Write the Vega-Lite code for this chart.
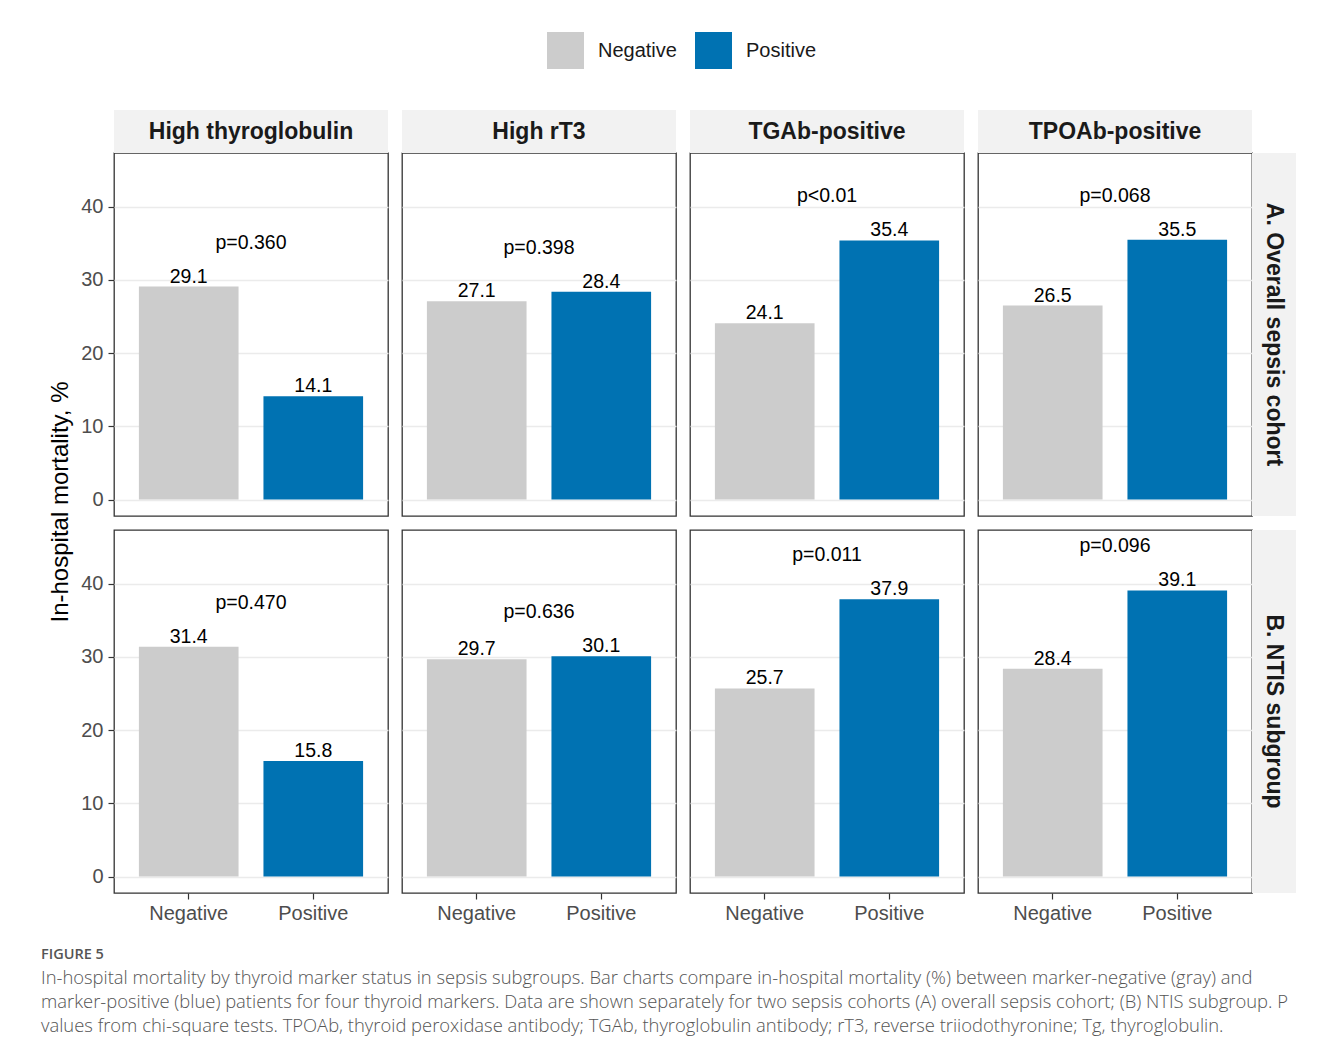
{
  "$schema": "https://vega.github.io/schema/vega-lite/v6.json",
  "background": "white",
  "padding": {"left": 40, "top": 32, "right": 10, "bottom": 10},
  "data": {"values": [
    {"cohort": "A. Overall sepsis cohort", "marker": "High thyroglobulin", "status": "Negative", "value": 29.1, "p": "p=0.360"},
    {"cohort": "A. Overall sepsis cohort", "marker": "High thyroglobulin", "status": "Positive", "value": 14.1, "p": "p=0.360"},
    {"cohort": "A. Overall sepsis cohort", "marker": "High rT3", "status": "Negative", "value": 27.1, "p": "p=0.398"},
    {"cohort": "A. Overall sepsis cohort", "marker": "High rT3", "status": "Positive", "value": 28.4, "p": "p=0.398"},
    {"cohort": "A. Overall sepsis cohort", "marker": "TGAb-positive", "status": "Negative", "value": 24.1, "p": "p<0.01"},
    {"cohort": "A. Overall sepsis cohort", "marker": "TGAb-positive", "status": "Positive", "value": 35.4, "p": "p<0.01"},
    {"cohort": "A. Overall sepsis cohort", "marker": "TPOAb-positive", "status": "Negative", "value": 26.5, "p": "p=0.068"},
    {"cohort": "A. Overall sepsis cohort", "marker": "TPOAb-positive", "status": "Positive", "value": 35.5, "p": "p=0.068"},
    {"cohort": "B. NTIS subgroup", "marker": "High thyroglobulin", "status": "Negative", "value": 31.4, "p": "p=0.470"},
    {"cohort": "B. NTIS subgroup", "marker": "High thyroglobulin", "status": "Positive", "value": 15.8, "p": "p=0.470"},
    {"cohort": "B. NTIS subgroup", "marker": "High rT3", "status": "Negative", "value": 29.7, "p": "p=0.636"},
    {"cohort": "B. NTIS subgroup", "marker": "High rT3", "status": "Positive", "value": 30.1, "p": "p=0.636"},
    {"cohort": "B. NTIS subgroup", "marker": "TGAb-positive", "status": "Negative", "value": 25.7, "p": "p=0.011"},
    {"cohort": "B. NTIS subgroup", "marker": "TGAb-positive", "status": "Positive", "value": 37.9, "p": "p=0.011"},
    {"cohort": "B. NTIS subgroup", "marker": "TPOAb-positive", "status": "Negative", "value": 28.4, "p": "p=0.096"},
    {"cohort": "B. NTIS subgroup", "marker": "TPOAb-positive", "status": "Positive", "value": 39.1, "p": "p=0.096"}
  ]},
  "title": {
    "text": "FIGURE 5",
    "subtitle": [
      "In-hospital mortality by thyroid marker status in sepsis subgroups. Bar charts compare in-hospital mortality (%) between marker-negative (gray) and",
      "marker-positive (blue) patients for four thyroid markers. Data are shown separately for two sepsis cohorts (A) overall sepsis cohort; (B) NTIS subgroup. P",
      "values from chi-square tests. TPOAb, thyroid peroxidase antibody; TGAb, thyroglobulin antibody; rT3, reverse triiodothyronine; Tg, thyroglobulin."
    ],
    "orient": "bottom",
    "anchor": "start",
    "frame": "bounds",
    "offset": 25,
    "dx": -8,
    "font": "Open Sans",
    "fontSize": 14.5,
    "fontWeight": 600,
    "color": "#555555",
    "subtitleFont": "Open Sans",
    "subtitleFontSize": 18.4,
    "subtitleFontWeight": 300,
    "subtitleColor": "#555555",
    "subtitleLineHeight": 24,
    "subtitlePadding": 6
  },
  "facet": {
    "column": {"field": "marker", "type": "nominal", "title": null,
      "sort": ["High thyroglobulin", "High rT3", "TGAb-positive", "TPOAb-positive"],
      "header": {"labelExpr": "''", "labelFontSize": 1, "labelPadding": 0, "title": null}},
    "row": {"field": "cohort", "type": "nominal", "title": "In-hospital mortality, %",
      "sort": ["A. Overall sepsis cohort", "B. NTIS subgroup"],
      "header": {"labelExpr": "''", "labelFontSize": 1, "labelPadding": 0, "labelOrient": "right", "titleOrient": "left", "titleFont": "Liberation Sans", "titleFontSize": 24, "titleFontWeight": "normal", "titleColor": "#000000", "titlePadding": -3}}
  },
  "spacing": {"row": 14, "column": 14},
  "bounds": "flush",
  "spec": {
    "width": 274,
    "height": 363,
    "layer": [
      {
        "transform": [{"filter": "datum.status == 'Negative' && datum.cohort == 'A. Overall sepsis cohort'"}],
        "mark": {"type": "rect", "fill": "#F2F2F2", "y2Offset": -43},
        "encoding": {"x": {"value": 0}, "x2": {"value": "width"}, "y": {"value": 0}, "y2": {"value": 0}}
      },
      {
        "transform": [{"filter": "datum.status == 'Negative' && datum.cohort == 'A. Overall sepsis cohort'"}],
        "mark": {"type": "text", "font": "Liberation Sans", "fontSize": 23, "fontWeight": "bold", "color": "#1A1A1A", "baseline": "middle", "align": "center", "dy": -21},
        "encoding": {"y": {"value": 0}, "text": {"field": "marker", "type": "nominal"}}
      },
      {
        "transform": [{"filter": "datum.status == 'Negative' && datum.marker == 'TPOAb-positive'"}],
        "mark": {"type": "rect", "fill": "#F2F2F2", "x2Offset": 44},
        "encoding": {"x": {"value": "width"}, "x2": {"value": "width"}, "y": {"value": 0}, "y2": {"value": "height"}}
      },
      {
        "transform": [{"filter": "datum.status == 'Negative' && datum.marker == 'TPOAb-positive'"}],
        "mark": {"type": "text", "font": "Liberation Sans", "fontSize": 23, "fontWeight": "bold", "color": "#1A1A1A", "baseline": "middle", "align": "center", "angle": 90, "xOffset": 22},
        "encoding": {"x": {"value": "width"}, "text": {"field": "cohort", "type": "nominal"}}
      },
      {
        "mark": {"type": "bar"},
        "encoding": {
          "x": {"field": "status", "type": "nominal", "sort": ["Negative", "Positive"],
            "scale": {"paddingInner": 0.2, "paddingOuter": 0.2},
            "axis": {"title": null, "labelAngle": 0, "labelFont": "Liberation Sans", "labelFontSize": 20, "labelColor": "#4D4D4D", "tickColor": "#333333", "tickSize": 6, "tickWidth": 1.2, "domain": false, "grid": false, "labelPadding": 4}},
          "y": {"field": "value", "type": "quantitative",
            "scale": {"domain": [-2.255, 47.355], "nice": false, "zero": false},
            "axis": {"title": null, "values": [0, 10, 20, 30, 40], "labelFont": "Liberation Sans", "labelFontSize": 20, "labelColor": "#4D4D4D", "tickColor": "#333333", "tickSize": 6, "tickWidth": 1.2, "domain": false, "grid": true, "gridColor": "#EBEBEB", "gridWidth": 1.6, "labelPadding": 5}},
          "color": {"field": "status", "type": "nominal",
            "scale": {"domain": ["Negative", "Positive"], "range": ["#CCCCCC", "#0072B2"]},
            "legend": {"title": null, "orient": "none", "direction": "horizontal", "legendX": 433, "legendY": -121, "symbolType": "square", "symbolSize": 1369, "symbolStrokeWidth": 0, "symbolOpacity": 1, "labelFont": "Liberation Sans", "labelFontSize": 20, "labelColor": "#1A1A1A", "labelOffset": 14, "columnPadding": 18}}
        }
      },
      {
        "mark": {"type": "text", "font": "Liberation Sans", "fontSize": 19.5, "color": "#000000", "baseline": "alphabetic", "dy": -4},
        "encoding": {
          "x": {"field": "status", "type": "nominal", "sort": ["Negative", "Positive"],
            "scale": {"paddingInner": 0.2, "paddingOuter": 0.2},
            "axis": {"title": null, "labelAngle": 0, "labelFont": "Liberation Sans", "labelFontSize": 20, "labelColor": "#4D4D4D", "tickColor": "#333333", "tickSize": 6, "tickWidth": 1.2, "domain": false, "grid": false, "labelPadding": 4}},
          "y": {"field": "value", "type": "quantitative",
            "scale": {"domain": [-2.255, 47.355], "nice": false, "zero": false},
            "axis": {"title": null, "values": [0, 10, 20, 30, 40], "labelFont": "Liberation Sans", "labelFontSize": 20, "labelColor": "#4D4D4D", "tickColor": "#333333", "tickSize": 6, "tickWidth": 1.2, "domain": false, "grid": true, "gridColor": "#EBEBEB", "gridWidth": 1.6, "labelPadding": 5}},
          "text": {"field": "value", "type": "quantitative", "format": ".1f"}
        }
      },
      {
        "mark": {"type": "text", "font": "Liberation Sans", "fontSize": 19.5, "color": "#000000", "baseline": "middle", "align": "center", "dy": -44},
        "encoding": {
          "y": {"aggregate": "max", "field": "value", "type": "quantitative",
            "scale": {"domain": [-2.255, 47.355], "nice": false, "zero": false},
            "axis": {"title": null, "values": [0, 10, 20, 30, 40], "labelFont": "Liberation Sans", "labelFontSize": 20, "labelColor": "#4D4D4D", "tickColor": "#333333", "tickSize": 6, "tickWidth": 1.2, "domain": false, "grid": true, "gridColor": "#EBEBEB", "gridWidth": 1.6, "labelPadding": 5}},
          "text": {"field": "p", "type": "nominal"}
        }
      }
    ]
  },
  "config": {
    "view": {"stroke": "#333333", "strokeWidth": 1.3},
    "font": "Liberation Sans"
  }
}
